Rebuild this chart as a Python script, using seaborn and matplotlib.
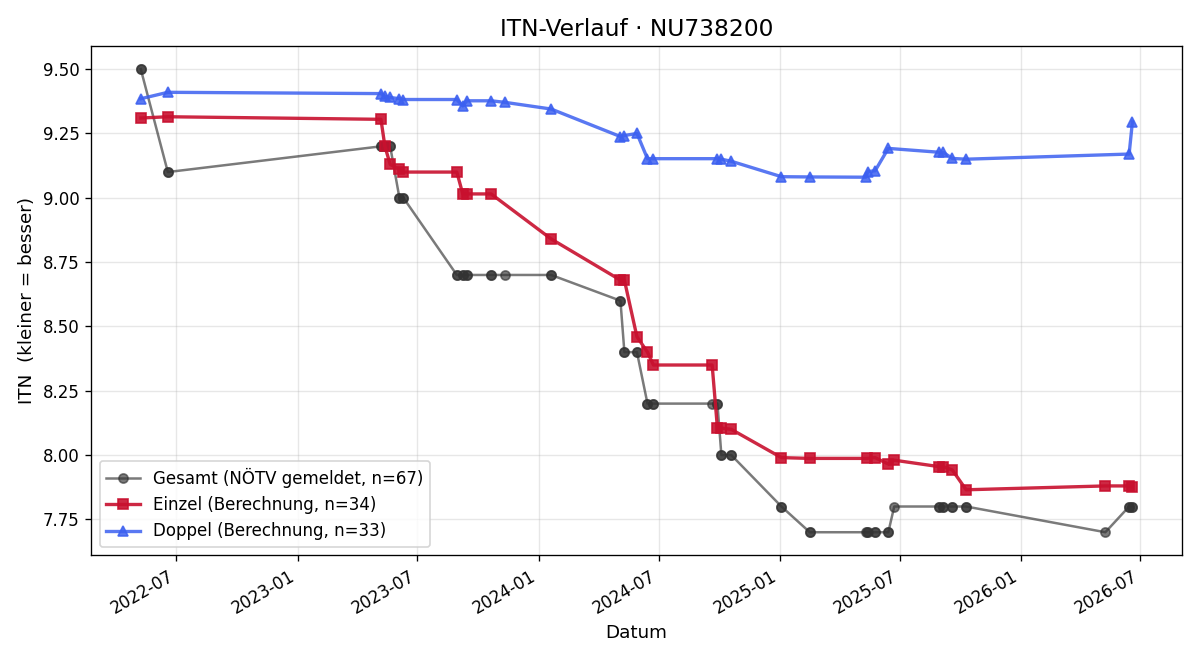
import seaborn as sns
import numpy as np
import pandas as pd
import matplotlib
matplotlib.use("Agg")
import matplotlib.pyplot as plt
import matplotlib.dates as mdates

# Einzel (Berechnung)
einzel_dates = ["2022-05-08", "2022-06-18", "2023-05-07", "2023-05-13", "2023-05-21",
                "2023-06-04", "2023-06-10", "2023-08-30", "2023-09-08", "2023-09-14",
                "2023-10-21", "2024-01-20", "2024-05-04", "2024-05-10", "2024-05-29",
                "2024-06-14", "2024-06-23", "2024-09-20", "2024-09-28", "2024-10-04",
                "2024-10-19", "2025-01-03", "2025-02-15", "2025-05-12", "2025-05-25",
                "2025-06-14", "2025-06-23", "2025-08-30", "2025-09-05", "2025-09-19",
                "2025-10-10", "2026-05-09", "2026-06-14", "2026-06-19"]
einzel_itn = [9.31, 9.315, 9.305, 9.20, 9.13,
              9.11, 9.10, 9.10, 9.015, 9.015,
              9.015, 8.84, 8.68, 8.68, 8.46,
              8.40, 8.35, 8.35, 8.105, 8.105,
              8.10, 7.99, 7.987, 7.987, 7.99,
              7.965, 7.98, 7.955, 7.955, 7.942,
              7.865, 7.88, 7.88, 7.877]

# Doppel (Berechnung)
doppel_dates = ["2022-05-08", "2022-06-18", "2023-05-07", "2023-05-13", "2023-05-21",
                "2023-06-04", "2023-06-10", "2023-08-30", "2023-09-08", "2023-09-14",
                "2023-10-21", "2023-11-11", "2024-01-20", "2024-05-04", "2024-05-10",
                "2024-05-29", "2024-06-14", "2024-06-23", "2024-09-28", "2024-10-04",
                "2024-10-19", "2025-01-03", "2025-02-15", "2025-05-11", "2025-05-14",
                "2025-05-25", "2025-06-14", "2025-08-30", "2025-09-05", "2025-09-19",
                "2025-10-10", "2026-06-14", "2026-06-19"]
doppel_itn = [9.385, 9.41, 9.405, 9.395, 9.39,
              9.385, 9.382, 9.382, 9.357, 9.377,
              9.377, 9.371, 9.345, 9.238, 9.242,
              9.25, 9.152, 9.152, 9.152, 9.15,
              9.142, 9.082, 9.081, 9.08, 9.102,
              9.105, 9.192, 9.177, 9.177, 9.153,
              9.15, 9.17, 9.295]

# Gesamt (NÖTV gemeldet) - one entry per Einzel/Doppel date
gesamt_dates = ["2022-05-08", "2022-05-08", "2022-06-18", "2022-06-18",
                "2023-05-07", "2023-05-07", "2023-05-13", "2023-05-13",
                "2023-05-21", "2023-05-21", "2023-06-04", "2023-06-04",
                "2023-06-10", "2023-06-10", "2023-08-30", "2023-08-30",
                "2023-09-08", "2023-09-08", "2023-09-14", "2023-09-14",
                "2023-10-21", "2023-10-21", "2023-11-11",
                "2024-01-20", "2024-01-20", "2024-05-04", "2024-05-04",
                "2024-05-10", "2024-05-10", "2024-05-29", "2024-05-29",
                "2024-06-14", "2024-06-14", "2024-06-23", "2024-06-23",
                "2024-09-20", "2024-09-28", "2024-09-28",
                "2024-10-04", "2024-10-04", "2024-10-19", "2024-10-19",
                "2025-01-03", "2025-01-03", "2025-02-15", "2025-02-15",
                "2025-05-11", "2025-05-12", "2025-05-14",
                "2025-05-25", "2025-05-25", "2025-06-14", "2025-06-14",
                "2025-06-23", "2025-08-30", "2025-08-30", "2025-09-05", "2025-09-05",
                "2025-09-19", "2025-09-19", "2025-10-10", "2025-10-10",
                "2026-05-09", "2026-06-14", "2026-06-14", "2026-06-19", "2026-06-19"]
gesamt_itn = [9.50, 9.50, 9.10, 9.10,
              9.20, 9.20, 9.20, 9.20,
              9.20, 9.20, 9.00, 9.00,
              9.00, 9.00, 8.70, 8.70,
              8.70, 8.70, 8.70, 8.70,
              8.70, 8.70, 8.70,
              8.70, 8.70, 8.60, 8.60,
              8.40, 8.40, 8.40, 8.40,
              8.20, 8.20, 8.20, 8.20,
              8.20, 8.20, 8.20,
              8.00, 8.00, 8.00, 8.00,
              7.80, 7.80, 7.70, 7.70,
              7.70, 7.70, 7.70,
              7.70, 7.70, 7.70, 7.70,
              7.80, 7.80, 7.80, 7.80, 7.80,
              7.80, 7.80, 7.80, 7.80,
              7.70, 7.80, 7.80, 7.80, 7.80]

series = [
    ("Gesamt (NÖTV gemeldet, n=67)", gesamt_dates, gesamt_itn,
     "#333333", dict(alpha=0.65, marker="o", markersize=5.5, linewidth=1.5)),
    ("Einzel (Berechnung, n=34)", einzel_dates, einzel_itn,
     "#c8102e", dict(alpha=0.9, marker="s", markersize=6.5, linewidth=2)),
    ("Doppel (Berechnung, n=33)", doppel_dates, doppel_itn,
     "#3c60f0", dict(alpha=0.85, marker="^", markersize=6.5, linewidth=2)),
]

fig, ax = plt.subplots(figsize=(10, 5.5), dpi=120)

for label, dates, vals, color, style in series:
    df = pd.DataFrame({"Datum": pd.to_datetime(dates), "ITN": vals})
    sns.lineplot(data=df, x="Datum", y="ITN", ax=ax, label=label,
                 estimator=None, sort=False, color=color,
                 markeredgecolor=color, markeredgewidth=1, **style)

ax.set_title("ITN-Verlauf · NU738200", fontsize=14)
ax.set_xlabel("Datum", fontsize=11)
ax.set_ylabel("ITN  (kleiner = besser)", fontsize=11)
ax.grid(True, alpha=0.3)
ax.yaxis.set_major_formatter(matplotlib.ticker.FormatStrFormatter("%.2f"))
ax.xaxis.set_major_locator(mdates.MonthLocator(bymonth=[1, 7]))
ax.xaxis.set_major_formatter(mdates.DateFormatter("%Y-%m"))
ax.legend(loc="lower left", fontsize=10)
fig.autofmt_xdate()

plt.tight_layout()
plt.savefig("out.png", dpi=120)
